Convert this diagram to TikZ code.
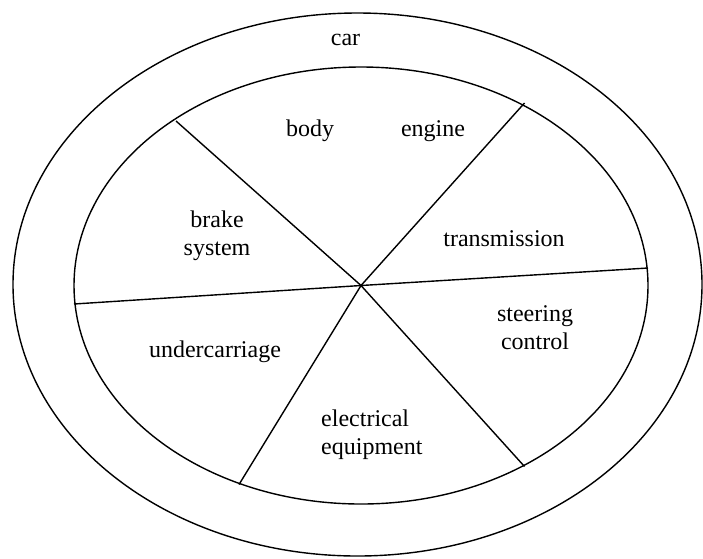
\documentclass[tikz,border=0pt]{standalone}
\usepackage{fontspec}
\setmainfont{Liberation Serif}
\begin{document}
\begin{tikzpicture}[x=1pt,y=-1pt,
  ring/.style={draw=black,line width=1.4pt},
  ray/.style={draw=black,line width=1.4pt},
  lbl/.style={font=\fontsize{24}{28}\selectfont,inner sep=0pt,anchor=base,align=center}]
  \useasboundingbox (0,0) rectangle (703,558);
  % outer and inner ellipses
  \draw[ring] (357.5,284.5) ellipse [x radius=344.5, y radius=271.5];
  \draw[ring] (361,285.5) ellipse [x radius=287, y radius=218.5];
  % hub and spoke ends
  \coordinate (hub) at (361,285.5);
  \coordinate (ul) at (176,121);
  \coordinate (ur) at (524.5,103);
  \coordinate (lft) at (74,304);
  \coordinate (rgt) at (648,268);
  \coordinate (ll) at (239,484.5);
  \coordinate (lr) at (524.5,466.5);
  \foreach \e in {ul,ur,lft,rgt,ll,lr} \draw[ray] (hub) -- (\e);
  % labels (base anchor of a two-line label sits on its last line)
  \node[lbl] (car) at (345.5,45) {car};
  \node[lbl] (body) at (310,136) {body};
  \node[lbl] (engine) at (433,136) {engine};
  \node[lbl] (brake) at (217,255) {brake\\system};
  \node[lbl] (trans) at (504,246) {transmission};
  \node[lbl] (steer) at (535,349) {steering\\control};
  \node[lbl] (under) at (215,357) {undercarriage};
  \node[lbl,align=left,anchor=base west] (elec) at (321,454) {electrical\\equipment};
\end{tikzpicture}
\end{document}
